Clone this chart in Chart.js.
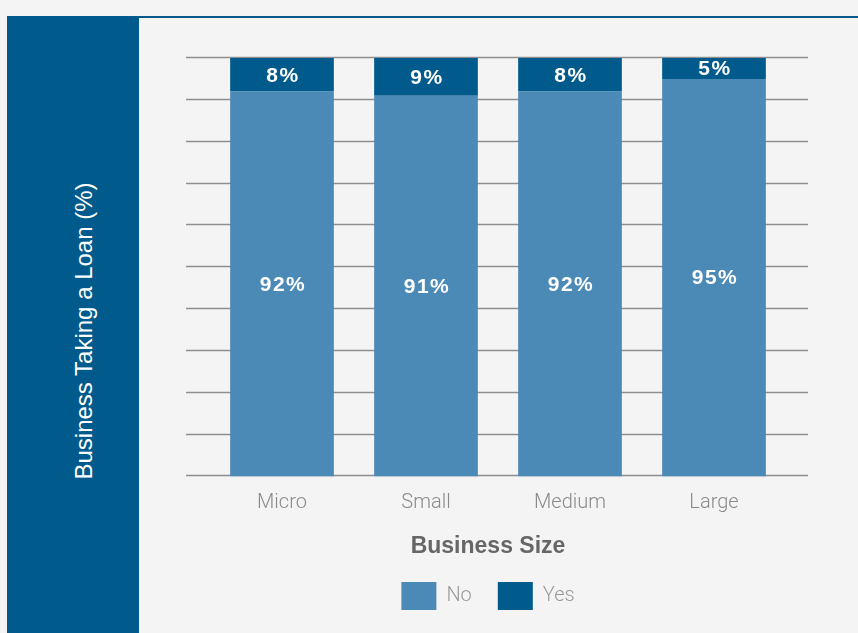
<!DOCTYPE html>
<html>
<head>
<meta charset="utf-8">
<script src="https://cdn.jsdelivr.net/npm/chart.js@4.4.1/dist/chart.umd.min.js"></script>
<style>
  html, body { margin: 0; padding: 0; }
  body { width: 858px; height: 633px; background: #f4f4f4; position: relative; overflow: hidden; }
  #topline { position: absolute; left: 7px; top: 16px; width: 851px; height: 2px; background: #005a8c; }
  #panel { position: absolute; left: 7px; top: 17px; width: 132px; height: 616px; background: #005a8c; }
  #ylabel { position: absolute; left: 84px; top: 331px; transform: translate(-50%, -50%) rotate(-90deg);
    white-space: nowrap; color: #fff; font: 24px "Liberation Sans", Arial, sans-serif; }
  #wrap { position: absolute; left: 136px; top: 17px; width: 704px; height: 616px; }
</style>
</head>
<body>
<div id="topline"></div>
<div id="panel"></div>
<div id="ylabel">Business Taking a Loan (%)</div>
<div id="wrap"><canvas id="myChart" width="704" height="616"></canvas></div>
<script>
  //data
  var categories = ["Micro", "Small", "Medium", "Large"];
  var noValues = [92, 91, 92, 95];
  var yesValues = [8, 9, 8, 5];
  var yTicks = [0, 10, 20, 30, 40, 50, 60, 70, 80, 90, 100];

  //grid lines drawn wider than the bar area, from the y scale
  var gridPlugin = {
    id: "wideGrid",
    beforeDatasetsDraw: function(chart) {
      var ctx = chart.ctx;
      var area = chart.chartArea;
      var y = chart.scales.y;
      ctx.save();
      ctx.strokeStyle = "#8e8e8e";
      ctx.lineWidth = 1.6;
      for (var i = 0; i < yTicks.length; i++) {
        var py = Math.round(y.getPixelForValue(yTicks[i])) - 0.5;
        ctx.beginPath();
        ctx.moveTo(area.left - 24, py);
        ctx.lineTo(area.right + 22, py);
        ctx.stroke();
      }
      ctx.restore();
    }
  };

  //percent labels inside each segment
  var labelPlugin = {
    id: "segLabels",
    afterDatasetsDraw: function(chart) {
      var ctx = chart.ctx;
      ctx.save();
      ctx.fillStyle = "#ffffff";
      ctx.font = "bold 21px 'Liberation Sans', Arial, sans-serif";
      ctx.textAlign = "center";
      ctx.textBaseline = "middle";
      try { ctx.letterSpacing = "1.5px"; } catch (e) {}
      chart.data.datasets.forEach(function(ds, di) {
        var meta = chart.getDatasetMeta(di);
        meta.data.forEach(function(bar, i) {
          var mid = (bar.y + bar.base) / 2;
          ctx.fillText(ds.data[i] + "%", bar.x + 1, mid + 1);
        });
      });
      ctx.restore();
    }
  };

  //empty side axes just to reserve room left/right of the bars
  function hiddenAxis(pos, w) {
    return {
      position: pos,
      stacked: true,
      min: 0,
      max: 100,
      grid: { display: false },
      border: { display: false },
      ticks: { display: false },
      afterFit: function(scale) { scale.width = w; }
    };
  }

  var yAxis = hiddenAxis("left", 74);
  var y2Axis = hiddenAxis("right", 54);

  var ctx = document.getElementById("myChart").getContext("2d");
  var chart = new Chart(ctx, {
    type: "bar",
    data: {
      labels: categories,
      datasets: [{
          label: "No",
          data: noValues,
          backgroundColor: "#4b89b6",
          borderWidth: 0
        },
        {
          label: "Yes",
          data: yesValues,
          backgroundColor: "#005a8c",
          borderWidth: 0
        }
      ]
    },
    options: {
      responsive: false,
      animation: false,
      devicePixelRatio: 1,
      layout: { padding: { left: 0, right: 0, top: 41, bottom: 13 } },
      datasets: { bar: { barPercentage: 0.72, categoryPercentage: 1 } },
      scales: {
        x: {
          stacked: true,
          grid: { display: false },
          border: { display: false },
          ticks: {
            color: "#8a8a8a",
            padding: 7,
            maxRotation: 0,
            font: { family: "Roboto", weight: 300, size: 20 }
          }
        },
        y: yAxis,
        y2: y2Axis
      },
      plugins: {
        tooltip: { enabled: false },
        legend: {
          position: "bottom",
          title: {
            display: true,
            text: "Business Size",
            color: "#666666",
            padding: { top: 13, bottom: -7 },
            font: { family: "'Liberation Sans', Arial, sans-serif", weight: "bold", size: 23 }
          },
          labels: {
            boxWidth: 35,
            boxHeight: 28,
            padding: 26,
            color: "#999999",
            font: { family: "Roboto", weight: 300, size: 20 }
          }
        }
      }
    },
    plugins: [gridPlugin, labelPlugin]
  });
</script>
</body>
</html>
